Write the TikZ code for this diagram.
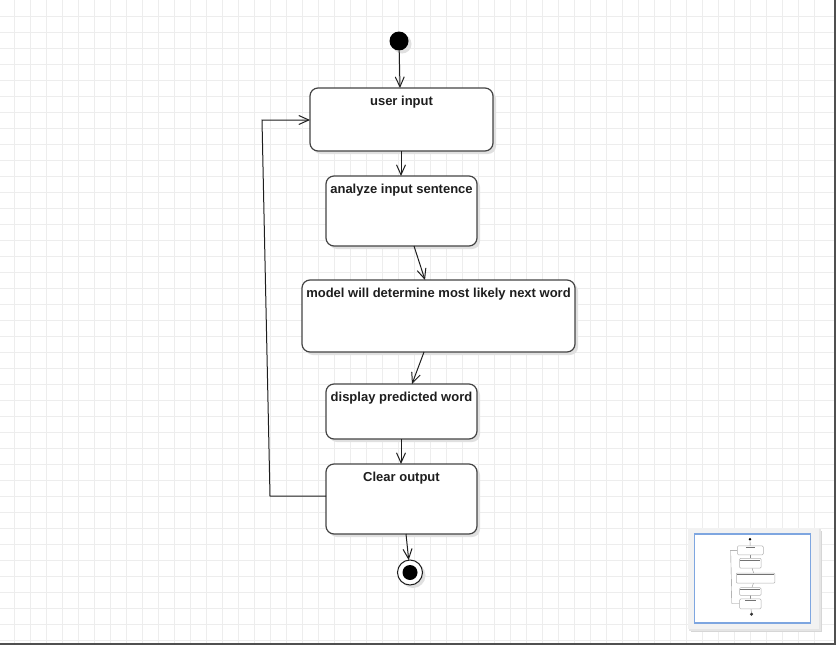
\documentclass[tikz,border=0pt]{standalone}
\usepackage{fontspec}
\setmainfont{Liberation Sans}
\usetikzlibrary{arrows.meta,shadows}
\definecolor{gridline}{HTML}{EDEDED}
\definecolor{frameline}{HTML}{505050}
\definecolor{navblue}{HTML}{7EA6E0}
\definecolor{navpanel}{HTML}{F2F2F2}
\definecolor{boxline}{HTML}{444444}
\definecolor{inkline}{HTML}{1E1E1E}

\begin{document}
\begin{tikzpicture}[x=1pt,y=-1pt,
  softshadow/.style={drop shadow={shadow xshift=3pt,shadow yshift=-3pt,opacity=1,fill=black!12}},
  actbox/.style={draw=boxline,line width=1.2pt,fill=white,rounded corners=8pt,
                 inner sep=0pt,outer sep=0pt,softshadow},
  lbl/.style={font=\fontsize{13}{15}\selectfont\bfseries,text=inkline,
              inner sep=0pt,anchor=base,yshift=-17pt},
  flow/.style={draw=inkline,line width=1pt,-{Straight Barb[length=10pt,width=9pt]}},
  minibox/.style={draw=black!30,line width=0.5pt,fill=white,rounded corners=1pt},
  minitext/.style={draw=black!55,line width=0.8pt},
  miniflow/.style={draw=black!45,line width=0.4pt}
]
\useasboundingbox (0,0) rectangle (836,645);

% drawing canvas with grid
\fill[white] (0,0) rectangle (836,645);
\foreach \gx in {14.3,30.3,...,830}
  \draw[gridline,line width=1pt] (\gx,0) -- (\gx,645);
\foreach \gy in {16,32,...,640}
  \draw[gridline,line width=1pt] (0,\gy) -- (836,\gy);
\draw[frameline,line width=2pt] (835,0) -- (835,644) -- (0,644);

% activity nodes
\node[circle,fill=black,minimum size=19pt,inner sep=0pt,outer sep=0pt,softshadow]
  (start) at (399,41) {};
\node[actbox,minimum width=183pt,minimum height=63pt,label={[lbl]north:user input}]
  (b1) at (401.5,119.5) {};
\node[actbox,minimum width=151pt,minimum height=70pt,label={[lbl]north:analyze input sentence}]
  (b2) at (401.5,211) {};
\node[actbox,minimum width=273pt,minimum height=72pt,label={[lbl]north:model will determine most likely next word}]
  (b3) at (438.5,316) {};
\node[actbox,minimum width=151pt,minimum height=55pt,label={[lbl]north:display predicted word}]
  (b4) at (401.5,411.5) {};
\node[actbox,minimum width=151pt,minimum height=70pt,label={[lbl]north:Clear output}]
  (b5) at (401.5,499) {};
\node[circle,draw=inkline,line width=1pt,fill=white,minimum size=25pt,inner sep=0pt,
      outer sep=0pt,softshadow] (end) at (410,572.5) {};
\node[circle,fill=black,minimum size=15pt,inner sep=0pt] (endcore) at (end) {};

% control flow
\coordinate (loopbottom) at (270,496);
\coordinate (looptop) at (262,120);
\draw[flow] (start) -- ([xshift=-1.5pt]b1.north);
\draw[flow] ([xshift=-0.5pt]b1.south) -- ([xshift=-0.5pt]b2.north);
\draw[flow] ([xshift=12.5pt]b2.south) -- ([xshift=-13.5pt]b3.north);
\draw[flow] ([xshift=-14.5pt]b3.south) -- ([xshift=10.5pt]b4.north);
\draw[flow] ([xshift=-0.5pt]b4.south) -- ([xshift=-0.5pt]b5.north);
\draw[flow] ([xshift=4.5pt]b5.south) -- (end);
\draw[flow] ([yshift=3pt]b5.west) -- (loopbottom) -- (looptop) -- ([yshift=-0.5pt]b1.west);

% overview panel
\fill[black!16] (691,531) rectangle (822,632);
\fill[black!10] (689,529) rectangle (821,631);
\node[fill=navpanel,inner sep=0pt,outer sep=0pt,minimum width=131pt,minimum height=101pt]
  (panel) at (753.5,578.5) {};
\node[draw=navblue,line width=1.2pt,fill=white,inner sep=0pt,outer sep=0pt,
      minimum width=116pt,minimum height=89pt] (view) at (752.5,578.5) {};

% scaled-down copy of the flow inside the overview
\begin{scope}[shift={(750,539.3)},scale=0.141,shift={(-399,-41)}]
  \draw[miniflow] (399,51) -- (400,88);
  \draw[miniflow] (401,151) -- (401,176);
  \draw[miniflow] (414,246) -- (425,280);
  \draw[miniflow] (424,352) -- (412,384);
  \draw[miniflow] (401,439) -- (401,464);
  \draw[miniflow] (406,534) -- (409,560);
  \draw[miniflow] (326,496) -- (270,496) -- (262,120) -- (310,120);
  \draw[minibox] (310,88) rectangle (493,151);
  \draw[minibox] (326,176) rectangle (477,246);
  \draw[minibox] (302,280) rectangle (575,352);
  \draw[minibox] (326,384) rectangle (477,439);
  \draw[minibox] (326,464) rectangle (477,534);
  \draw[minitext] (370,100) -- (433,100);
  \draw[minitext] (331,188) -- (472,188);
  \draw[minitext] (307,292) -- (571,292);
  \draw[minitext] (331,396) -- (472,396);
  \draw[minitext] (364,476) -- (439,476);
  \fill[black] (399,41) circle[radius=10];
  \fill[black!80] (410,572) circle[radius=12];
\end{scope}
\end{tikzpicture}
\end{document}
